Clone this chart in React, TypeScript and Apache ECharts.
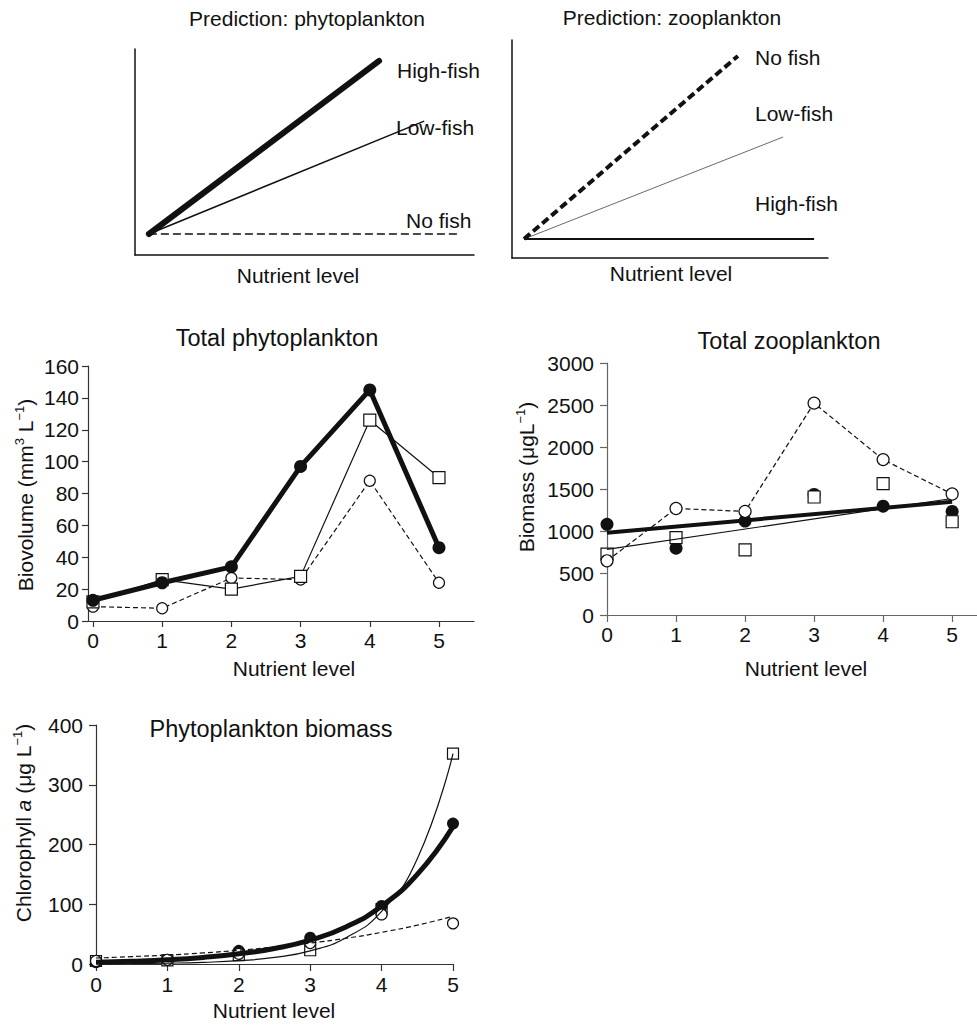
import React, { useEffect, useRef } from 'react';
import * as echarts from 'echarts';

const FONT = "'Liberation Sans', Arial, Helvetica, sans-serif";
const INK = '#111';

// Nutrient levels (x)
const levels = [0, 1, 2, 3, 4, 5];

// Prediction panels (schematic, 0-100 relative units)
const predPhytoHigh = [[4.1, 10.2], [72, 94.2]];
const predPhytoLow = [[4.1, 10.2], [85.3, 65]];
const predPhytoNo = [[4.1, 10.2], [95, 10.2]];
const predZooNo = [[3.8, 8.7], [71.5, 92.7]];
const predZooLow = [[3.8, 8.7], [85.8, 55.5]];
const predZooHigh = [[3.8, 8.7], [95.6, 8.7]];

// Total phytoplankton biovolume (mm3 L-1)
const phytoHigh = [13, 24, 34, 97, 145, 46];
const phytoLow = [12, 26, 20, 28, 126, 90];
const phytoNo = [9, 8, 27, 26, 88, 24];

// Total zooplankton biomass (ug L-1)
const zooNo = [645, 1268, 1233, 2522, 1850, 1440];
const zooHigh = [1080, 795, 1118, 1435, 1295, 1233];
const zooLow = [725, 920, 775, 1405, 1565, 1110];
const fitX = [0, 5];
const zooHighFit = [979, 1348];
const zooLowFit = [781, 1387];

// Chlorophyll a (ug L-1)
const chlHigh = [3, 7, 22, 44, 97, 235];
const chlLow = [5, 6, 15, 23, 92, 352];
const chlNo = [5, 7, 17, 35, 83, 68];
const curveX = [0, 0.5, 1, 1.5, 2, 2.5, 3, 3.5, 4, 4.5, 5];
const chlHighCurve = [3, 4.6, 7, 11, 17, 26, 40, 62, 97, 150, 230];
const chlLowCurve = [0.3, 0.7, 1.4, 2.8, 5.5, 11, 22, 44, 88, 176, 352];
const chlNoCurve = [10, 12.3, 15, 18.5, 23, 28.5, 35, 43, 53, 65, 80];

const pair = (xs: number[], ys: number[]) => xs.map((x, i) => [x, ys[i]]);

const predAxis = (gridIndex: number) => ({
  gridIndex,
  type: 'value',
  min: 0,
  max: 100,
  splitLine: { show: false },
  axisTick: { show: false },
  axisLabel: { show: false },
  axisLine: { onZero: false, lineStyle: { color: INK, width: 1.5 } },
});

const xAxisData = (gridIndex: number, min: number, max: number, tickLen: number, margin: number, color: string) => ({
  gridIndex,
  type: 'value',
  min,
  max,
  splitLine: { show: false },
  axisLine: { onZero: false, lineStyle: { color, width: 1.2 } },
  axisTick: { customValues: levels, length: tickLen, lineStyle: { color, width: 1.2 } },
  axisLabel: { customValues: levels, fontSize: 21, color: INK, fontFamily: FONT, margin },
});

const yAxisData = (gridIndex: number, max: number, interval: number, tickLen: number, margin: number, color: string) => ({
  gridIndex,
  type: 'value',
  min: 0,
  max,
  interval,
  splitLine: { show: false },
  axisLine: { show: true, onZero: false, lineStyle: { color, width: 1.2 } },
  axisTick: { show: true, length: tickLen, lineStyle: { color, width: 1.2 } },
  axisLabel: { fontSize: 21, color: INK, fontFamily: FONT, margin, formatter: (v: number) => String(v) },
});

const txt = (x: number, y: number, text: string, fontSize = 21, align = 'center') => ({
  type: 'text',
  x,
  y,
  style: { text, fontSize, fontFamily: FONT, fill: INK, align, verticalAlign: 'middle' },
});

const rich = {
  sup: { fontSize: 13, fontFamily: FONT, fill: INK, verticalAlign: 'top', lineHeight: 24 },
  it: { fontSize: 21, fontFamily: FONT, fill: INK, fontStyle: 'italic', lineHeight: 24 },
  n: { fontSize: 21, fontFamily: FONT, fill: INK, lineHeight: 24 },
};

const vtxt = (x: number, y: number, text: string) => ({
  type: 'text',
  x,
  y,
  rotation: Math.PI / 2,
  style: { text, rich, fontSize: 21, fontFamily: FONT, fill: INK, align: 'center', verticalAlign: 'middle' },
});

const openCircle = { color: '#fff', borderColor: INK, borderWidth: 1.2, opacity: 1 };
const openSquare = { color: '#fff', borderColor: INK, borderWidth: 1.2, opacity: 1 };
const filled = { color: INK, opacity: 1 };

export default function App() {
  const ref = useRef<HTMLDivElement>(null);
  useEffect(() => {
    if (!ref.current) return;
    const chart = echarts.init(ref.current, undefined, { renderer: 'svg' });
    const option: any = {
      animation: false,
      backgroundColor: '#fff',
      grid: [
        { left: 135, top: 49, width: 339, height: 206 },
        { left: 512, top: 40, width: 316, height: 218 },
        { left: 88, top: 366, width: 386, height: 255 },
        { left: 607, top: 363, width: 370, height: 252 },
        { left: 96, top: 725, width: 357, height: 239 },
      ],
      xAxis: [
        predAxis(0),
        predAxis(1),
        xAxisData(2, -0.072, 5.506, 6, 9, '#333'),
        xAxisData(3, 0, 5.36, 7, 9, '#666'),
        xAxisData(4, 0, 5, 7, 10, '#333'),
      ],
      yAxis: [
        predAxis(0),
        predAxis(1),
        yAxisData(2, 160, 20, 6, 9, '#333'),
        yAxisData(3, 3000, 500, 7, 13, '#666'),
        yAxisData(4, 400, 100, 7, 13, '#333'),
      ],
      series: [
        // Prediction: phytoplankton
        { type: 'line', xAxisIndex: 0, yAxisIndex: 0, symbol: 'none', data: predPhytoNo, lineStyle: { color: INK, width: 1.5, type: [8, 4] } },
        { type: 'line', xAxisIndex: 0, yAxisIndex: 0, symbol: 'none', data: predPhytoLow, lineStyle: { color: INK, width: 1.5 } },
        { type: 'line', xAxisIndex: 0, yAxisIndex: 0, symbol: 'none', data: predPhytoHigh, lineStyle: { color: INK, width: 6, cap: 'round' } },
        // Prediction: zooplankton
        { type: 'line', xAxisIndex: 1, yAxisIndex: 1, symbol: 'none', data: predZooHigh, lineStyle: { color: INK, width: 2 } },
        { type: 'line', xAxisIndex: 1, yAxisIndex: 1, symbol: 'none', data: predZooLow, lineStyle: { color: '#444', width: 0.8 } },
        { type: 'line', xAxisIndex: 1, yAxisIndex: 1, symbol: 'none', data: predZooNo, lineStyle: { color: INK, width: 4, type: [8, 4] } },
        // Total phytoplankton
        { type: 'line', xAxisIndex: 2, yAxisIndex: 2, data: pair(levels, phytoNo), symbol: 'circle', symbolSize: 11, itemStyle: openCircle, lineStyle: { color: INK, width: 1.2, type: [5, 3] } },
        { type: 'line', xAxisIndex: 2, yAxisIndex: 2, data: pair(levels, phytoLow), symbol: 'rect', symbolSize: 12, itemStyle: openSquare, lineStyle: { color: INK, width: 1.2 } },
        { type: 'line', xAxisIndex: 2, yAxisIndex: 2, data: pair(levels, phytoHigh), symbol: 'circle', symbolSize: 13, itemStyle: filled, lineStyle: { color: INK, width: 5 } },
        // Total zooplankton
        { type: 'line', xAxisIndex: 3, yAxisIndex: 3, data: pair(fitX, zooLowFit), symbol: 'none', lineStyle: { color: INK, width: 1.2 } },
        { type: 'line', xAxisIndex: 3, yAxisIndex: 3, data: pair(fitX, zooHighFit), symbol: 'none', lineStyle: { color: INK, width: 4 } },
        { type: 'scatter', xAxisIndex: 3, yAxisIndex: 3, data: pair(levels, zooHigh), symbol: 'circle', symbolSize: 13, itemStyle: filled },
        { type: 'scatter', xAxisIndex: 3, yAxisIndex: 3, data: pair(levels, zooLow), symbol: 'rect', symbolSize: 12, itemStyle: openSquare },
        { type: 'line', xAxisIndex: 3, yAxisIndex: 3, data: pair(levels, zooNo), symbol: 'circle', symbolSize: 12, itemStyle: openCircle, lineStyle: { color: INK, width: 1.2, type: [5, 3] } },
        // Phytoplankton biomass
        { type: 'scatter', xAxisIndex: 4, yAxisIndex: 4, data: pair(levels, chlLow), symbol: 'rect', symbolSize: 11, itemStyle: openSquare },
        { type: 'line', xAxisIndex: 4, yAxisIndex: 4, data: pair(curveX, chlLowCurve), symbol: 'none', smooth: true, lineStyle: { color: INK, width: 1.2 } },
        { type: 'line', xAxisIndex: 4, yAxisIndex: 4, data: pair(curveX, chlNoCurve), symbol: 'none', smooth: true, lineStyle: { color: INK, width: 1.2, type: [5, 3] } },
        { type: 'line', xAxisIndex: 4, yAxisIndex: 4, data: pair(curveX, chlHighCurve), symbol: 'none', smooth: true, lineStyle: { color: INK, width: 5 } },
        { type: 'scatter', xAxisIndex: 4, yAxisIndex: 4, data: pair(levels, chlHigh), symbol: 'circle', symbolSize: 12, itemStyle: filled },
        { type: 'scatter', xAxisIndex: 4, yAxisIndex: 4, data: pair(levels, chlNo), symbol: 'circle', symbolSize: 11, itemStyle: openCircle },
      ],
      graphic: [
        txt(307, 18, 'Prediction: phytoplankton'),
        txt(672, 17, 'Prediction: zooplankton'),
        txt(298, 275, 'Nutrient level'),
        txt(671, 273, 'Nutrient level'),
        txt(397, 70, 'High-fish', 21, 'left'),
        txt(396, 127, 'Low-fish', 21, 'left'),
        txt(406, 220, 'No fish', 21, 'left'),
        txt(755, 57, 'No fish', 21, 'left'),
        txt(755, 113, 'Low-fish', 21, 'left'),
        txt(755, 203, 'High-fish', 21, 'left'),
        txt(277, 338, 'Total phytoplankton', 23.5),
        txt(789, 341, 'Total zooplankton', 23.5),
        txt(271, 729, 'Phytoplankton biomass', 23.5),
        txt(294, 668, 'Nutrient level'),
        txt(806, 668, 'Nutrient level'),
        txt(274, 1010, 'Nutrient level'),
        vtxt(25, 495, '{n|Biovolume (mm}{sup|3}{n| L}{sup|−1}{n|)}'),
        vtxt(526, 477, '{n|Biomass (μgL}{sup|−1}{n|)}'),
        vtxt(23, 823, '{n|Chlorophyll }{it|a}{n| (μg L}{sup|−1}{n|)}'),
      ],
    };
    chart.setOption(option);
    return () => chart.dispose();
  }, []);
  return (
    <div
      ref={ref}
      style={{ position: 'fixed', left: 0, top: 0, width: 977, height: 1025, background: '#fff' }}
    />
  );
}
